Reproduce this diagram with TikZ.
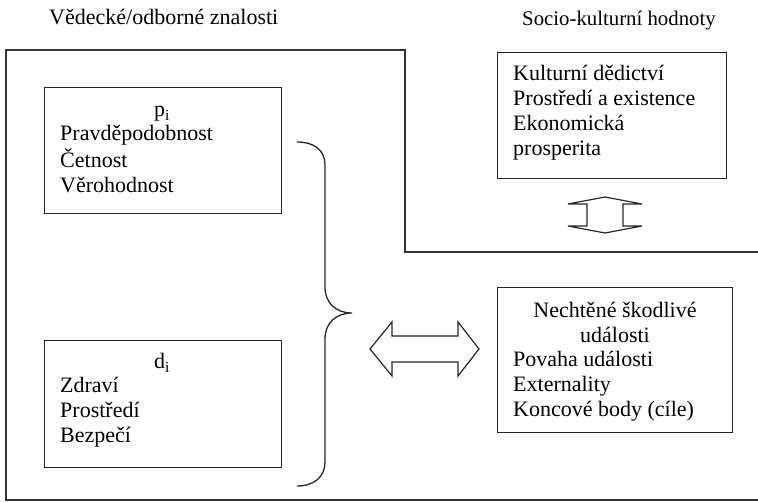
\documentclass[tikz,border=0pt]{standalone}
\usepackage{fontspec}
\setmainfont{Liberation Serif}
\begin{document}
\begin{tikzpicture}[x=1pt,y=-1pt,
  frame/.style={draw=black!85,line width=1.4pt},
  itembox/.style={frame,rectangle,inner sep=0pt,anchor=north west},
  txt/.style={inner sep=0pt,font=\fontsize{22}{25}\selectfont},
  lines/.style={txt,anchor=base west},
  head/.style={txt,anchor=base},
  bigarrow/.style={draw=black!85,line width=1.2pt,line join=miter},
]
\useasboundingbox (0,0) rectangle (758,502);

% titles
\node[txt,anchor=base west] (tsci) at (49,25) {Vědecké/odborné znalosti};
\node[txt,anchor=base west,font=\fontsize{20.8}{25}\selectfont] (tsoc) at (522,26) {Socio-kulturní hodnoty};

% outline of the scientific domain
\draw[draw=black!80,line width=1.4pt]
  (758,252) -- (405,252) -- (405,50) -- (6,50) -- (6,500) -- (758,500);

% probability box
\node[itembox,minimum width=237pt,minimum height=126pt] (pbox) at (44,87) {};
\node[head] (ptitle) at (162,117) {p\textsubscript{i}};
\node[lines] (plist) at (60,141) {\begin{tabular}[t]{@{}l@{}}Pravděpodobnost\\Četnost\\Věrohodnost\end{tabular}};

% consequence box
\node[itembox,minimum width=237pt,minimum height=127pt] (dbox) at (44,340) {};
\node[head] (dtitle) at (162,369) {d\textsubscript{i}};
\node[lines] (dlist) at (60,393) {\begin{tabular}[t]{@{}l@{}}Zdraví\\Prostředí\\Bezpečí\end{tabular}};

% socio-cultural values box
\node[itembox,minimum width=229pt,minimum height=126pt] (sbox) at (497,52) {};
\node[lines] (slist) at (513,81) {\begin{tabular}[t]{@{}l@{}}Kulturní dědictví\\Prostředí a existence\\Ekonomická\\prosperita\end{tabular}};

% unwanted events box
\node[itembox,minimum width=235pt,minimum height=145pt] (ebox) at (497,287) {};
\node[head] (etitle) at (615,318) {\begin{tabular}[t]{@{}c@{}}Nechtěné škodlivé\\události\end{tabular}};
\node[lines] (elist) at (513,367) {\begin{tabular}[t]{@{}l@{}}Povaha události\\Externality\\Koncové body (cíle)\end{tabular}};

% brace grouping p_i and d_i
\draw[draw=black!85,line width=1.3pt]
  (297,142) .. controls (314,142) and (325,150) .. (325,165) -- (325,287)
  .. controls (325,303) and (336,313) .. (352,313)
  .. controls (336,313) and (325,323) .. (325,339) -- (325,462)
  .. controls (325,477) and (314,486) .. (297,486);

% horizontal double arrow
\coordinate (hl) at (370,349);
\coordinate (hr) at (479,349);
\draw[bigarrow] (hl) -- ++(22,-27) -- ++(0,14) -- (458,336) -- ++(0,-14) -- (hr)
  -- (458,376) -- ++(0,-14) -- (392,362) -- ++(0,14) -- cycle;

% vertical double arrow
\coordinate (vt) at (605,197);
\coordinate (vb) at (605,233);
\draw[bigarrow] (vt) -- (642,204) -- (623,204) -- (623,226) -- (642,226) -- (vb)
  -- (568,226) -- (587,226) -- (587,204) -- (568,204) -- cycle;
\end{tikzpicture}
\end{document}
